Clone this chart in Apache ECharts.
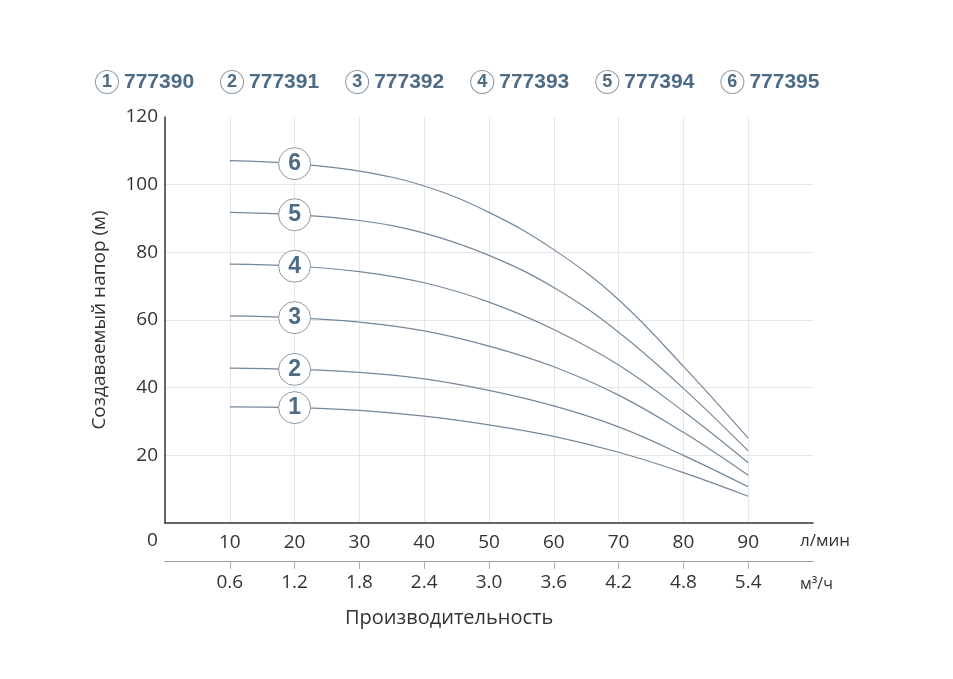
<!DOCTYPE html>
<html>
<head>
<meta charset="utf-8">
<script src="https://cdn.jsdelivr.net/npm/echarts@6/dist/echarts.min.js"></script>
<style>
  html, body { margin: 0; padding: 0; background: #fff; }
  #chart { width: 953px; height: 679px; }
</style>
</head>
<body>
<div id="chart"></div>
<script>
// flow, l/min
var flow = [10, 20, 30, 40, 50, 60, 70, 80, 90];
// head, m
var pump1 = [34.3, 34.1, 33.3, 31.6, 29.0, 25.6, 20.9, 14.9, 7.9];
var pump2 = [45.8, 45.4, 44.5, 42.6, 39.2, 34.6, 28.4, 20.0, 10.7];
var pump3 = [61.2, 60.7, 59.4, 56.8, 52.3, 46.2, 37.8, 26.8, 14.1];
var pump4 = [76.5, 75.9, 74.3, 71.0, 65.3, 57.2, 46.7, 33.0, 17.8];
var pump5 = [91.8, 91.1, 89.4, 85.7, 79.1, 69.6, 56.4, 39.8, 21.3];
var pump6 = [107.1, 106.2, 104.0, 99.6, 91.8, 80.8, 66.0, 46.3, 25.1];
var models = ["777390", "777391", "777392", "777393", "777394", "777395"];
var tickFlow = [10, 20, 30, 40, 50, 60, 70, 80, 90];

var all_heads = [pump1, pump2, pump3, pump4, pump5, pump6];
var lineColor = "#75879a";
var numColor = "#4d6b84";
var font = "Open Sans";

function makeSeries(i) {
    var heads = all_heads[i];
    var data = [];
    for (var k = 0; k < flow.length; k++) {
        if (k == 1) {
            data.push({
                value: [flow[k], heads[k]],
                symbol: "circle",
                symbolSize: 32,
                itemStyle: { color: "#fff", borderColor: "#8a9aa7", borderWidth: 1 },
                label: {
                    show: true,
                    position: "inside",
                    formatter: String(i + 1),
                    fontFamily: "Liberation Sans",
                    fontWeight: "bold",
                    fontSize: 23,
                    color: numColor
                }
            });
        } else {
            data.push([flow[k], heads[k]]);
        }
    }
    return {
        name: models[i],
        type: "line",
        smooth: 0.4,
        symbol: "none",
        showSymbol: true,
        lineStyle: { color: lineColor, width: 1.2 },
        itemStyle: { color: lineColor },
        emphasis: { disabled: true },
        data: data
    };
}

var series = [];
for (var i = 0; i < models.length; i++) series.push(makeSeries(i));

var option = {
    animation: false,
    backgroundColor: "#fff",
    legend: {
        left: 86,
        top: 65,
        itemGap: 22,
        icon: "none",
        itemWidth: 0,
        itemHeight: 0,
        selectedMode: false,
        data: models,
        formatter: function (name) {
            return "{c|" + (models.indexOf(name) + 1) + "}{t|" + name + "}";
        },
        textStyle: {
            rich: {
                c: {
                    width: 22, height: 22, borderRadius: 12,
                    borderColor: "#8a9aa7", borderWidth: 1, backgroundColor: "#fff",
                    align: "center", fontSize: 18, fontWeight: "bold",
                    fontFamily: "Liberation Sans", color: numColor
                },
                t: {
                    fontSize: 21, fontWeight: "bold", fontFamily: "Liberation Sans",
                    color: numColor, padding: [0, 0, 0, 6]
                }
            }
        }
    },
    grid: { left: 165, right: 140, top: 117, bottom: 156 },
    xAxis: [
        {
            type: "value",
            min: 0, max: 100, interval: 10,
            axisLine: { show: true, lineStyle: { color: "#333", width: 1.5 } },
            axisTick: { show: false },
            axisLabel: {
                margin: 10,
                fontFamily: font, fontSize: 19, color: "#333",
                formatter: function (v) { return (v == 0 || v == 100) ? "" : String(v); }
            },
            splitLine: { show: true, showMinLine: false, showMaxLine: false, lineStyle: { color: "#e4e6e8" } }
        },
        {
            type: "value",
            position: "bottom",
            offset: 38,
            min: 0, max: 100, interval: 10,
            axisLine: { show: true, lineStyle: { color: "#9a9a9a", width: 1 } },
            axisTick: { show: true, length: 8, customValues: tickFlow, lineStyle: { color: "#b0b0b0" } },
            axisLabel: {
                margin: 12,
                customValues: tickFlow,
                fontFamily: font, fontSize: 19, color: "#333",
                formatter: function (v) { return (v * 0.06).toFixed(1); }
            },
            splitLine: { show: false }
        }
    ],
    yAxis: {
        type: "value",
        min: 0, max: 120, interval: 20,
        name: "Создаваемый напор (м)",
        nameLocation: "middle",
        nameGap: 56,
        nameTextStyle: { fontFamily: font, fontSize: 19, color: "#333" },
        axisLine: { show: true, lineStyle: { color: "#333", width: 1.5 } },
        axisTick: { show: false },
        axisLabel: { margin: 7, fontFamily: font, fontSize: 19, color: "#333", showMinLabel: false },
        splitLine: { show: true, showMinLine: false, showMaxLine: false, lineStyle: { color: "#e4e6e8" } }
    },
    graphic: [
        { type: "text", left: 147, top: 531, style: { text: "0", font: "19px 'Open Sans'", fill: "#333" } },
        { type: "text", left: 800, top: 533, style: { text: "л/мин", font: "17px 'Open Sans'", fill: "#333" } },
        { type: "text", left: 800, top: 576, style: { text: "м³/ч", font: "16px 'Open Sans'", fill: "#333" } },
        { type: "text", left: 345, top: 608, style: { text: "Производительность", font: "20px 'Open Sans'", fill: "#333" } }
    ],
    series: series
};

var myChart = echarts.init(document.getElementById("chart"));
myChart.setOption(option);
</script>
</body>
</html>
